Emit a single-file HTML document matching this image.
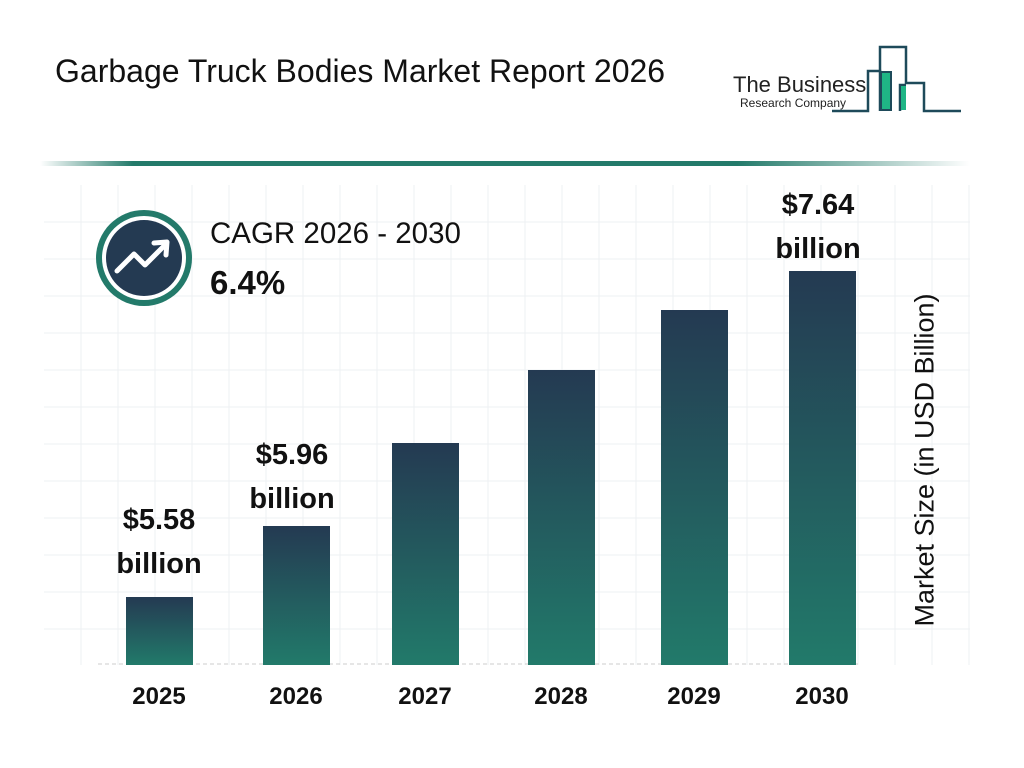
<!DOCTYPE html>
<html><head><style>
body{margin:0;width:1024px;height:768px;background:#fff;font-family:"Liberation Sans",Arial,sans-serif;overflow:hidden;position:relative}
.t{position:absolute;white-space:nowrap}
.bar{position:absolute;bottom:103px;width:67px;background:linear-gradient(#243a52,#227a6a)}
.yr{position:absolute;top:683px;width:100px;text-align:center;font-weight:bold;font-size:24px;color:#111}
.lbl{position:absolute;width:140px;text-align:center;font-weight:bold;font-size:29px;line-height:44px;color:#111}
</style></head><body>
<svg width="1024" height="768" style="position:absolute;left:0;top:0">
<defs><linearGradient id="hl" x1="0" x2="1"><stop offset="0" stop-color="#fff"/><stop offset="0.1" stop-color="#237a6a"/><stop offset="0.75" stop-color="#237a6a"/><stop offset="1" stop-color="#fff"/></linearGradient></defs>
<rect x="40" y="161" width="930" height="5" fill="url(#hl)"/>
<g stroke="#eef0f3" stroke-width="1">
<line x1="44" x2="970" y1="222" y2="222"/><line x1="44" x2="970" y1="259" y2="259"/><line x1="44" x2="970" y1="296" y2="296"/><line x1="44" x2="970" y1="333" y2="333"/><line x1="44" x2="970" y1="370" y2="370"/><line x1="44" x2="970" y1="407" y2="407"/><line x1="44" x2="970" y1="444" y2="444"/><line x1="44" x2="970" y1="481" y2="481"/><line x1="44" x2="970" y1="518" y2="518"/><line x1="44" x2="970" y1="555" y2="555"/><line x1="44" x2="970" y1="592" y2="592"/><line x1="44" x2="970" y1="629" y2="629"/>
<line x1="81" x2="81" y1="185" y2="665"/><line x1="118" x2="118" y1="185" y2="665"/><line x1="155" x2="155" y1="185" y2="665"/><line x1="192" x2="192" y1="185" y2="665"/><line x1="229" x2="229" y1="185" y2="665"/><line x1="266" x2="266" y1="185" y2="665"/><line x1="303" x2="303" y1="185" y2="665"/><line x1="340" x2="340" y1="185" y2="665"/><line x1="377" x2="377" y1="185" y2="665"/><line x1="414" x2="414" y1="185" y2="665"/><line x1="451" x2="451" y1="185" y2="665"/><line x1="488" x2="488" y1="185" y2="665"/><line x1="525" x2="525" y1="185" y2="665"/><line x1="562" x2="562" y1="185" y2="665"/><line x1="599" x2="599" y1="185" y2="665"/><line x1="636" x2="636" y1="185" y2="665"/><line x1="673" x2="673" y1="185" y2="665"/><line x1="710" x2="710" y1="185" y2="665"/><line x1="747" x2="747" y1="185" y2="665"/><line x1="784" x2="784" y1="185" y2="665"/><line x1="821" x2="821" y1="185" y2="665"/><line x1="858" x2="858" y1="185" y2="665"/><line x1="895" x2="895" y1="185" y2="665"/><line x1="932" x2="932" y1="185" y2="665"/><line x1="969" x2="969" y1="185" y2="665"/>
</g>
<line x1="98" x2="860" y1="664" y2="664" stroke="#ccc" stroke-dasharray="4 3"/>
<circle cx="144" cy="258" r="48" fill="#237a6a"/><circle cx="144" cy="258" r="42" fill="#fff"/><circle cx="144" cy="258" r="38" fill="#243a52"/>
<polyline points="117,271 134,254 145,265 166,244" fill="none" stroke="#fff" stroke-width="5" stroke-linecap="round" stroke-linejoin="round"/>
<polyline points="154,243 167,242 166,255" fill="none" stroke="#fff" stroke-width="5" stroke-linecap="round" stroke-linejoin="round"/>
<g fill="none" stroke="#1e4a5a" stroke-width="2.5">
<polyline points="832,111 868,111 868,71 880,71 880,111"/>
<polyline points="880,71 880,47 906,47 906,83 924,83 924,111 961,111"/>
<polyline points="900,111 900,85 906,85"/>
</g>
<rect x="881" y="72" width="10" height="38" fill="#1fb585" stroke="#1e4a5a" stroke-width="2"/>
<rect x="901" y="86" width="5" height="24" fill="#1fb585"/>
</svg>
<div class="t" style="left:55px;top:53px;font-size:32px;color:#111">Garbage Truck Bodies Market Report 2026</div>
<div class="t" style="left:733px;top:72px;font-size:22px;color:#222">The Business</div>
<div class="t" style="left:740px;top:96px;font-size:12px;color:#222">Research Company</div>
<div class="t" style="left:210px;top:217px;font-size:29.5px;color:#111">CAGR 2026 - 2030</div>
<div class="t" style="left:210px;top:264px;font-size:33px;font-weight:bold;color:#111">6.4%</div>
<div class="bar" style="left:126px;height:68px"></div>
<div class="bar" style="left:263px;height:139px"></div>
<div class="bar" style="left:392px;height:222px"></div>
<div class="bar" style="left:528px;height:295px"></div>
<div class="bar" style="left:661px;height:355px"></div>
<div class="bar" style="left:789px;height:394px"></div>
<div class="lbl" style="left:89px;top:498px">$5.58<br>billion</div>
<div class="lbl" style="left:222px;top:433px">$5.96<br>billion</div>
<div class="lbl" style="left:748px;top:183px">$7.64<br>billion</div>
<div class="yr" style="left:109px">2025</div>
<div class="yr" style="left:246px">2026</div>
<div class="yr" style="left:375px">2027</div>
<div class="yr" style="left:511px">2028</div>
<div class="yr" style="left:644px">2029</div>
<div class="yr" style="left:772px">2030</div>
<div class="t" style="left:925px;top:460px;font-size:27px;color:#111;transform:translate(-50%,-50%) rotate(-90deg)">Market Size (in USD Billion)</div>
</body></html>
